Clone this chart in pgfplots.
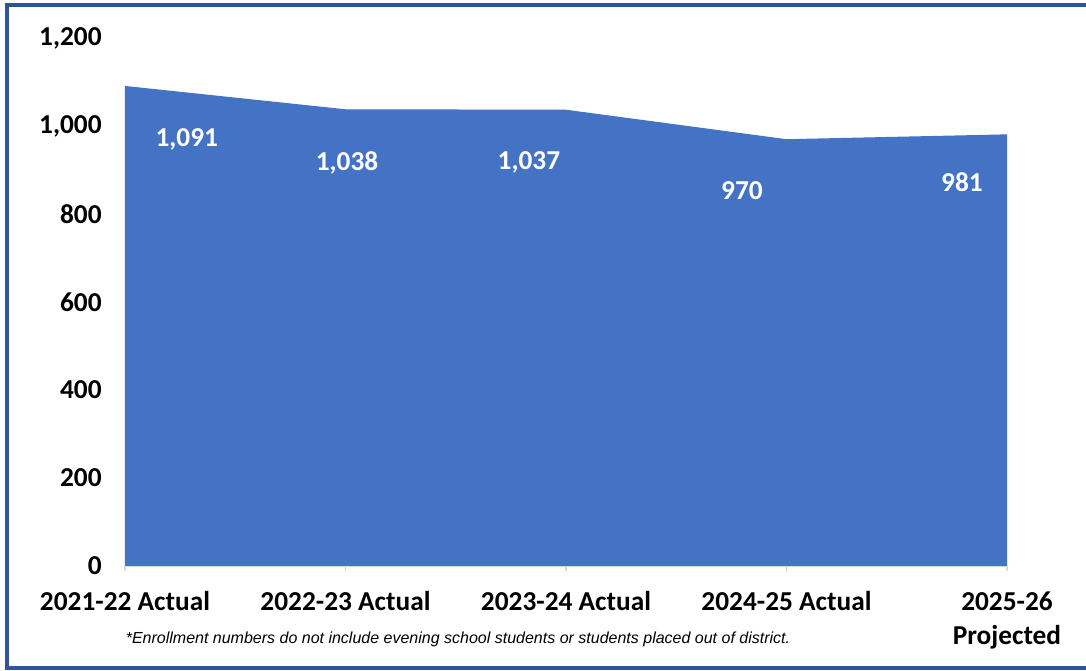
\documentclass[border=0pt]{standalone}
\usepackage{pgfplots}
\pgfplotsset{compat=1.18}
\usepackage{fontspec}
\setmainfont{Carlito}
\newfontfamily\arialfont{Liberation Sans}
\definecolor{areablue}{HTML}{4472C4}
\definecolor{framecol}{HTML}{2F5597}
\definecolor{axgray}{HTML}{D9D9D9}
\begin{document}
\begin{tikzpicture}
\useasboundingbox (0,0) rectangle (814.5pt,503.25pt);
\draw[framecol, line width=3pt] (814.5pt,499.5pt) -- (5.25pt,499.5pt) -- (5.25pt,2.25pt) -- (814.5pt,2.25pt);
\begin{axis}[
  at={(93.75pt,78.75pt)}, anchor=origin,
  scale only axis, width=661.5pt, height=396pt,
  xmin=0, xmax=4, ymin=0, ymax=1200,
  xtick={0,1,2,3,4},
  xticklabels={2021-22 Actual,2022-23 Actual,2023-24 Actual,2024-25 Actual,{2025-26\\Projected}},
  ytick={0,200,400,600,800,1000,1200},
  yticklabels={0,200,400,600,800,{1,000},{1,200}},
  axis x line*=bottom, axis y line*=left,
  y axis line style={draw=none},
  ytick style={draw=none},
  x axis line style={axgray, line width=1.2pt, -},
  xtick style={axgray, line width=1.2pt},
  tick align=outside, major tick length=4pt,
  ticklabel style={font=\fontsize{20.5}{25.5}\selectfont\bfseries, text=black},
  xticklabel style={align=center, yshift=-11.5pt},
  yticklabel style={xshift=-10pt},
  clip=false,
]
\addplot[fill=areablue, draw=none] coordinates {(0,1091) (1,1038) (2,1037) (3,970) (4,981)} \closedcycle;
\node[text=white, font=\fontsize{20.5}{24}\selectfont\bfseries] at (axis cs:0.28,970) {1,091};
\node[text=white, font=\fontsize{20.5}{24}\selectfont\bfseries] at (axis cs:1.007,916) {1,038};
\node[text=white, font=\fontsize{20.5}{24}\selectfont\bfseries] at (axis cs:1.832,918) {1,037};
\node[text=white, font=\fontsize{20.5}{24}\selectfont\bfseries] at (axis cs:2.798,852) {970};
\node[text=white, font=\fontsize{20.5}{24}\selectfont\bfseries] at (axis cs:3.796,873) {981};
\end{axis}
\node[font=\arialfont\itshape\fontsize{12}{14}\selectfont] at (343.5pt,24pt) {*Enrollment numbers do not include evening school students or students placed out of district.};
\end{tikzpicture}
\end{document}
